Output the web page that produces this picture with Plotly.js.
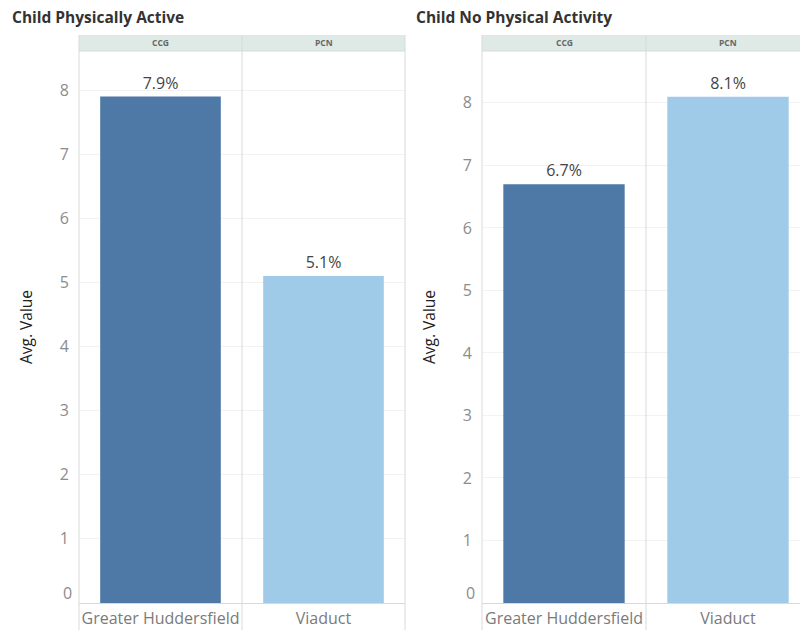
<!DOCTYPE html>
<html>
<head>
<meta charset="utf-8">
<script src="https://cdn.plot.ly/plotly-3.0.1.min.js"></script>
<style>
  html, body { margin: 0; padding: 0; background: #fff; }
  #chart { width: 800px; height: 630px; }
</style>
</head>
<body>
<div id="chart"></div>
<script>
// Areas shown in each panel, and the group header above each column
const areas = ['Greater Huddersfield', 'Viaduct'];
const groups = ['CCG', 'PCN'];
const barColors = ['#4e79a7', '#a0cbe8'];

// Average values (%) per area
const activeValues = [7.9, 5.1];
const noActivityValues = [6.7, 8.1];

const panelTitles = ['Child Physically Active', 'Child No Physical Activity'];
const yTicks = [1, 2, 3, 4, 5, 6, 7, 8];

const FONT = '"Open Sans", sans-serif';
const W = 800, H = 630;
const px = v => v / W;
const py = v => 1 - v / H;

const yBottom = py(603), yTop = py(51), headTop = py(35);
const domains = [[px(79), px(405)], [px(482), 1]];
// the second panel runs past the right edge, so its last column is cut off
const xRanges = [[-0.5, 1.5], [-0.5, 1.439]];

function barTrace(values, xa, ya) {
  return {
    type: 'bar',
    x: areas,
    y: values,
    xaxis: xa,
    yaxis: ya,
    width: 0.74,
    marker: { color: barColors, line: { width: 0 } },
    text: values.map(v => v.toFixed(1) + '%'),
    textposition: 'outside',
    textfont: { family: FONT, size: 16, color: '#444' },
    cliponaxis: false,
    hoverinfo: 'x+y',
    showlegend: false
  };
}

const data = [
  barTrace(activeValues, 'x', 'y'),
  barTrace(noActivityValues, 'x2', 'y2')
];

function xAxis(domain, anchor, range) {
  return {
    domain: domain,
    anchor: anchor,
    type: 'category',
    range: range,
    showgrid: false,
    zeroline: false,
    showline: true,
    linecolor: '#d9d9d9',
    linewidth: 1,
    ticks: 'outside',
    ticklen: 1,
    tickcolor: 'rgba(0,0,0,0)',
    tickfont: { family: FONT, size: 16, color: '#7a7a7a' },
    fixedrange: true
  };
}

function yAxis(anchor, top) {
  return {
    domain: [yBottom, yTop],
    anchor: anchor,
    range: [0, top],
    tickmode: 'array',
    tickvals: yTicks,
    ticktext: yTicks.map(String),
    showgrid: true,
    gridcolor: '#f2f2f2',
    gridwidth: 1,
    zeroline: false,
    showline: false,
    ticks: 'outside',
    ticklen: 6,
    tickcolor: 'rgba(0,0,0,0)',
    tickfont: { family: FONT, size: 16, color: '#8c8c8c' },
    title: {
      text: 'Avg. Value',
      font: { family: FONT, size: 15.5, color: '#222' },
      standoff: 23
    },
    fixedrange: true
  };
}

const shapes = [];
const annotations = [];
[['x', 'y'], ['x2', 'y2']].forEach(([xa, ya], i) => {
  const xd = xa + ' domain';
  // header band
  shapes.push({ type: 'rect', xref: xd, yref: 'paper', x0: 0, x1: 1, y0: yTop, y1: headTop,
    fillcolor: '#dfeae6', line: { width: 0 }, layer: 'below' });
  shapes.push({ type: 'line', xref: xd, yref: 'paper', x0: 0, x1: 1, y0: yTop, y1: yTop,
    line: { color: '#d3dcd9', width: 1 } });
  // panel border lines
  shapes.push({ type: 'line', xref: xd, yref: 'paper', x0: 0, x1: 0, y0: 0, y1: headTop,
    line: { color: '#d9d9d9', width: 1 } });
  if (i === 0) {
    shapes.push({ type: 'line', xref: xd, yref: 'paper', x0: 1, x1: 1, y0: 0, y1: headTop,
      line: { color: '#d9d9d9', width: 1 } });
  }
  // divider between the two columns
  shapes.push({ type: 'line', xref: xa, yref: 'paper', x0: 0.5, x1: 0.5, y0: 0, y1: headTop,
    line: { color: '#d9d9d9', width: 1 } });
  groups.forEach((g, j) => {
    annotations.push({ xref: xa, yref: 'paper', x: j, y: (yTop + headTop) / 2,
      text: '<b>' + g + '</b>', showarrow: false, xanchor: 'center', yanchor: 'middle',
      font: { family: FONT, size: 8.5, color: '#666' } });
  });
  // the zero label sits just above the baseline
  annotations.push({ xref: xd, yref: ya, x: 0, y: 0, text: '0', showarrow: false,
    xanchor: 'right', yanchor: 'bottom', xshift: -5, yshift: -3,
    font: { family: FONT, size: 16, color: '#8c8c8c' } });
});

annotations.push({ xref: 'paper', yref: 'paper', x: px(10), y: py(17), text: '<b>' + panelTitles[0] + '</b>',
  showarrow: false, xanchor: 'left', yanchor: 'middle', font: { family: FONT, size: 15.5, color: '#333' } });
annotations.push({ xref: 'paper', yref: 'paper', x: px(414), y: py(17), text: '<b>' + panelTitles[1] + '</b>',
  showarrow: false, xanchor: 'left', yanchor: 'middle', font: { family: FONT, size: 15.5, color: '#333' } });

const layout = {
  width: W,
  height: H,
  margin: { l: 0, r: 0, t: 0, b: 0, pad: 0 },
  paper_bgcolor: '#fff',
  plot_bgcolor: '#fff',
  xaxis: xAxis(domains[0], 'y', xRanges[0]),
  yaxis: yAxis('x', 8.61),
  xaxis2: xAxis(domains[1], 'y2', xRanges[1]),
  yaxis2: yAxis('x2', 8.83),
  shapes: shapes,
  annotations: annotations,
  font: { family: FONT }
};

Plotly.newPlot('chart', data, layout, { displayModeBar: false, staticPlot: true });
</script>
</body>
</html>
